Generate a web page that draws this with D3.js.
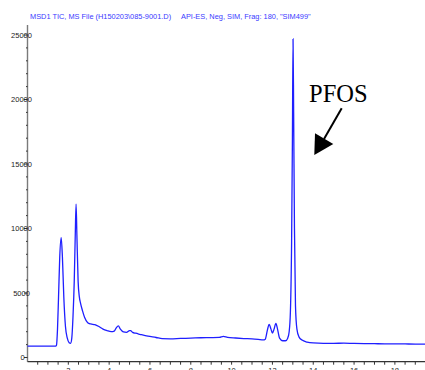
<!DOCTYPE html>
<html>
<head>
<meta charset="utf-8">
<script src="https://cdn.jsdelivr.net/npm/d3@7"></script>
<style>
  html, body { margin: 0; padding: 0; background: #fff; }
  svg { display: block; }
</style>
</head>
<body>
<svg id="chart" width="425" height="370"></svg>
<script>
// Retention time (min) and abundance
const times = [
  0, 1.38, 1.42, 1.47, 1.52, 1.58, 1.65, 1.71, 1.78, 1.86, 1.95, 2.04, 2.11,
  2.17, 2.23, 2.29, 2.34, 2.38, 2.42, 2.48, 2.54, 2.60, 2.70, 2.80, 2.95, 3.10,
  3.30, 3.50, 3.70, 3.90, 4.10, 4.25, 4.35, 4.45, 4.55, 4.70, 4.85, 5.00, 5.05,
  5.15, 5.30, 5.50, 5.90, 6.30, 6.60, 7.00, 7.50, 8.00, 8.50, 9.00, 9.40, 9.60,
  9.80, 10.20, 10.60, 11.00, 11.30, 11.55, 11.65, 11.75, 11.84, 11.93, 12.00,
  12.08, 12.17, 12.25, 12.35, 12.50, 12.64, 12.75, 12.82, 12.88, 12.94, 12.98,
  13.01, 13.04, 13.08, 13.13, 13.20, 13.30, 13.45, 13.70, 14.00, 14.50, 15.00,
  15.50, 16.00, 16.50, 17.00, 17.50, 18.00, 18.50, 19.00, 19.50
];
const abundance = [
  880, 880, 950, 2200, 4650, 7800, 9300, 7800, 4650, 2400, 1500, 1150, 1100,
  1500, 3200, 5900, 9500, 11880, 9500, 5900, 4700, 4200, 3600, 3100, 2700, 2600,
  2550, 2400, 2200, 2080, 2000, 2050, 2300, 2450, 2200, 1980, 1950, 2080, 2080,
  1950, 1880, 1800, 1650, 1550, 1460, 1450, 1480, 1500, 1530, 1540, 1560, 1640,
  1560, 1510, 1470, 1440, 1400, 1360, 1420, 2100, 2570, 2200, 1900,
  2200, 2650, 2200, 1500, 1300, 1300, 1500, 2000, 3500, 9000, 17000,
  24700, 19000, 10000, 4000, 2200, 1600, 1350, 1200, 1130, 1100, 1100,
  1110, 1090, 1080, 1070, 1060, 1060, 1050, 1040, 1040
];
const yTickValues = [0, 5000, 10000, 15000, 20000, 25000];
const xTickValues = [2, 4, 6, 8, 10, 12, 14, 16, 18];
const titleLeft = 'MSD1 TIC, MS File (H150203\\085-9001.D)';
const titleRight = 'API-ES, Neg, SIM, Frag: 180, "SIM499"';
const annotation = 'PFOS';

const svg = d3.select('#chart');
const points = times.map((t, i) => ({ t, v: abundance[i] }));

const x = d3.scaleLinear().domain([0, 19.5]).range([27.5, 425.5]);
const y = d3.scaleLinear().domain([0, 25000]).range([357.5, 35]);
const axisY = 361.7;

// title
const title = svg.append('g')
  .attr('font-family', 'Liberation Sans, Arial, sans-serif')
  .attr('font-size', 7.4)
  .attr('fill', '#3a3aff');
title.append('text').attr('x', 30).attr('y', 18.5).text(titleLeft);
title.append('text').attr('x', 181).attr('y', 18.5).text(titleRight);

// y axis
const yAxis = svg.append('g');
yAxis.append('line')
  .attr('x1', 27.5).attr('x2', 27.5)
  .attr('y1', 25).attr('y2', axisY)
  .attr('stroke', '#7a7a7a').attr('stroke-width', 1.4);
yAxis.selectAll('.minor')
  .data(d3.range(0, 26000, 1000).filter((d) => d % 5000 !== 0))
  .join('line')
  .attr('x1', 26).attr('x2', 27.5)
  .attr('y1', (d) => y(d)).attr('y2', (d) => y(d))
  .attr('stroke', '#333').attr('stroke-width', 1);
yAxis.selectAll('.major')
  .data(yTickValues)
  .join('line')
  .attr('x1', 24).attr('x2', 27.5)
  .attr('y1', (d) => y(d)).attr('y2', (d) => y(d))
  .attr('stroke', '#333').attr('stroke-width', 1);
yAxis.selectAll('text')
  .data(yTickValues)
  .join('text')
  .attr('x', (d) => d === 0 ? 22.5 : 21.5)
  .attr('y', (d) => y(d) + 2.7)
  .attr('text-anchor', 'middle')
  .attr('font-family', 'Liberation Sans, Arial, sans-serif')
  .attr('font-size', 7.5)
  .attr('fill', '#222')
  .text((d) => d);

// x axis (labels sit partly below the frame, as in the original)
const xAxis = svg.append('g');
xAxis.append('line')
  .attr('x1', 27.5).attr('x2', 425)
  .attr('y1', axisY).attr('y2', axisY)
  .attr('stroke', '#333').attr('stroke-width', 1.2);
xAxis.selectAll('.tick')
  .data(d3.range(0.5, 19.5, 0.5))
  .join('line')
  .attr('x1', (d) => x(d)).attr('x2', (d) => x(d))
  .attr('y1', axisY).attr('y2', axisY + 3)
  .attr('stroke', '#333').attr('stroke-width', 1);
xAxis.selectAll('text')
  .data(xTickValues)
  .join('text')
  .attr('x', (d) => x(d))
  .attr('y', 373)
  .attr('text-anchor', 'middle')
  .attr('font-family', 'Liberation Sans, Arial, sans-serif')
  .attr('font-size', 7.5)
  .attr('fill', '#222')
  .text((d) => d);

// trace
const line = d3.line()
  .x((d) => x(d.t))
  .y((d) => y(d.v))
  .curve(d3.curveMonotoneX);
svg.append('path')
  .datum(points)
  .attr('d', line)
  .attr('fill', 'none')
  .attr('stroke', '#1f1fff')
  .attr('stroke-width', 1.3);

// annotation
svg.append('text')
  .attr('x', 309).attr('y', 101.5)
  .attr('font-family', 'Liberation Serif, Times New Roman, serif')
  .attr('font-size', 24.5)
  .attr('fill', '#000')
  .text(annotation);
svg.append('line')
  .attr('x1', 341.7).attr('y1', 108.3)
  .attr('x2', 324).attr('y2', 139)
  .attr('stroke', '#000').attr('stroke-width', 2);
svg.append('path')
  .attr('d', 'M314.3,155 L315,133.3 L333.3,144 Z')
  .attr('fill', '#000');
</script>
</body>
</html>
